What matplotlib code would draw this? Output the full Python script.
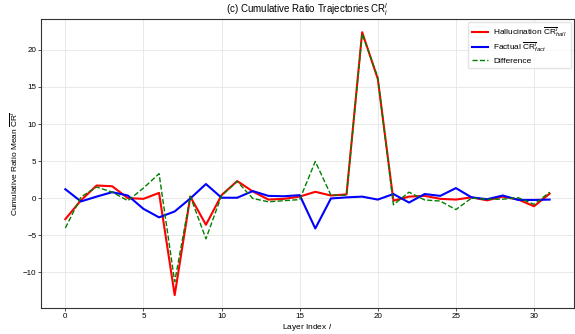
import numpy as np
import matplotlib
matplotlib.use("Agg")
import matplotlib.pyplot as plt

# %%	values

layers = np.arange(32)

hall_cr = [-2.84, -0.3, 1.7, 1.6, 0.0, -0.1, 0.7, -13.1, 0.2, -3.6,
           0.4, 2.3, 0.9, -0.2, -0.1, 0.2, 0.85, 0.35, 0.5, 22.4,
           16.1, -0.35, 0.2, 0.3, -0.1, -0.2, 0.1, -0.3, 0.2, -0.2,
           -1.1, 0.6]

fact_cr = [1.2, -0.45, 0.2, 0.8, 0.35, -1.45, -2.6, -1.8, -0.05, 1.9,
           0.05, 0.05, 0.95, 0.3, 0.25, 0.4, -4.1, -0.05, 0.1, 0.2,
           -0.2, 0.55, -0.6, 0.55, 0.3, 1.35, 0.1, -0.15, 0.35, -0.25,
           -0.25, -0.2]

diff_cr = np.array(hall_cr) - np.array(fact_cr)

# %%	plot

plt.rcParams['font.family'] = ['Liberation Sans', 'DejaVu Sans']
plt.rcParams['mathtext.fontset'] = 'custom'
plt.rcParams['mathtext.rm'] = 'Liberation Sans'
plt.rcParams['mathtext.it'] = 'Liberation Sans:italic'

fig, ax = plt.subplots(figsize=(5.75, 3.34), dpi=100)
fig.subplots_adjust(left=0.0715, right=0.998, top=0.943, bottom=0.077)

ax.plot(layers, hall_cr, color='red', lw=1.5,
        label=r'Hallucination $\overline{\mathrm{CR}}^l_{hall}$')
ax.plot(layers, fact_cr, color='blue', lw=1.5,
        label=r'Factual $\overline{\mathrm{CR}}^l_{fact}$')
ax.plot(layers, diff_cr, color='green', lw=1.0, ls='--', label='Difference')

ax.set_title(r'(c) Cumulative Ratio Trajectories $\mathrm{CR}^l_i$', fontsize=7, pad=4)
ax.set_xlabel(r'Layer Index $l$', fontsize=6, labelpad=1.5)
ax.set_ylabel(r'Cumulative Ratio Mean $\overline{\mathrm{CR}}^l$', fontsize=6, labelpad=2)

ax.set_xticks([0, 5, 10, 15, 20, 25, 30])
ax.set_yticks([-10, -5, 0, 5, 10, 15, 20])
ax.tick_params(labelsize=5.8, length=2, width=0.6, color='#333333', pad=1.5)
ax.grid(True, color='#e5e5e5', lw=0.6)
for s in ax.spines.values():
    s.set_color('#333333')
    s.set_linewidth(0.8)

ax.legend(loc='upper right', fontsize=6, frameon=True, edgecolor='#dddddd',
          handlelength=2.0, handletextpad=0.6, borderpad=0.45,
          labelspacing=0.3, borderaxespad=0.35)

fig.savefig('out.png', dpi=100)
